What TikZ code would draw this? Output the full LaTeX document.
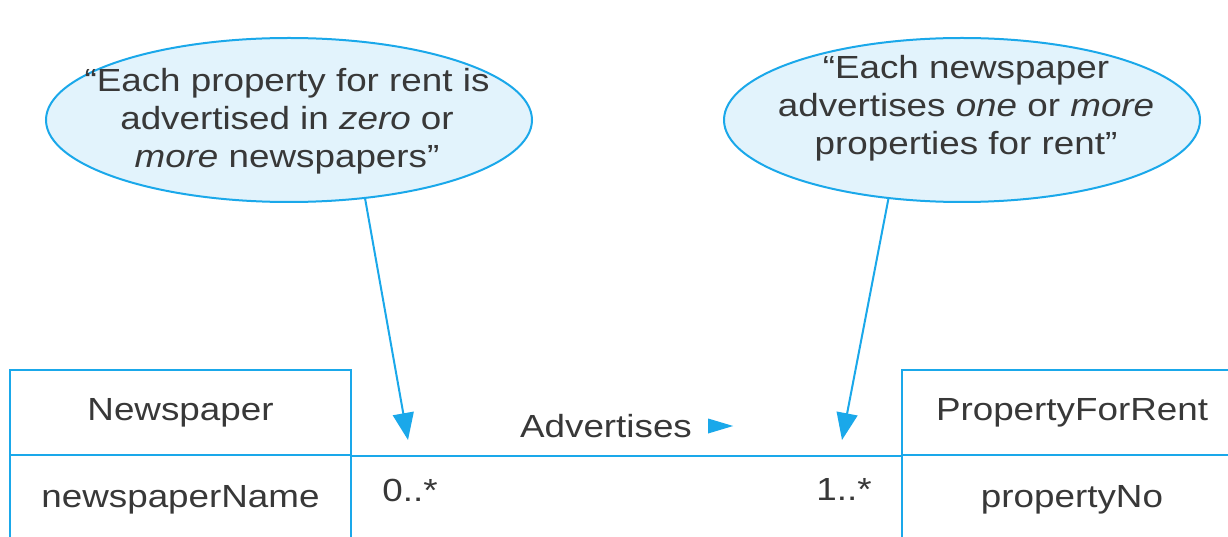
\documentclass[tikz,border=0pt]{standalone}
\usepackage{fontspec}
\setmainfont{Liberation Sans}[FakeStretch=1.15]
\usetikzlibrary{arrows.meta,shapes.geometric}
\definecolor{umlblue}{HTML}{1AA8EA}
\definecolor{notefill}{HTML}{E2F3FC}
\definecolor{txt}{HTML}{383838}
\tikzset{
  lbl/.style={font=\fontsize{32}{38}\selectfont, text=txt, inner sep=0pt, align=center},
  note/.style={ellipse, draw=umlblue, fill=notefill, line width=2pt, inner sep=0pt},
  cell/.style={draw=umlblue, line width=2pt, rectangle, inner sep=0pt, font=\fontsize{32}{38}\selectfont, text=txt},
  pointer/.style={draw=umlblue, line width=2pt, -{Triangle[length=27pt,width=21pt]}},
}
\begin{document}
\begin{tikzpicture}[x=1pt,y=-1pt]
\clip (0,0) rectangle (1228,537);
\fill[white] (0,0) rectangle (1228,537);
% notes
\node[note, minimum width=486pt, minimum height=164pt] (e1) at (289,120) {};
\node[lbl] (t1) at (287,121) {“Each property for rent is\\advertised in \textit{zero} or\\\textit{more} newspapers”};
\node[note, minimum width=476pt, minimum height=164pt] (e2) at (962,120) {};
\node[lbl] (t2) at (966,108) {“Each newspaper\\advertises \textit{one} or \textit{more}\\properties for rent”};
% classes
\node[cell, minimum width=341pt, minimum height=85pt] (np) at (180.5,412.5) {Newspaper};
\node[cell, minimum width=341pt, minimum height=90pt] (npa) at (180.5,500) {newspaperName};
\node[cell, minimum width=340pt, minimum height=85pt] (pf) at (1072,412.5) {PropertyForRent};
\node[cell, minimum width=340pt, minimum height=90pt] (pfa) at (1072,500) {propertyNo};
% association
\draw[umlblue, line width=2pt] (np.south east) -- (pf.south west);
\node[lbl] (adv) at (606,426) {Advertises};
\fill[umlblue] ([xshift=16pt,yshift=-7.5pt]adv.east) -- ++(0,-15) -- ++(25,7.5) -- cycle;
\node[lbl] (m0) at (410,490) {0..*};
\node[lbl] (m1) at (844,489) {1..*};
% pointers
\coordinate (p1) at (408,440);
\coordinate (p2) at (842,440);
\draw[pointer] (e1.-46.5) -- (p1);
\draw[pointer] (e2.-133.5) -- (p2);
\end{tikzpicture}
\end{document}
